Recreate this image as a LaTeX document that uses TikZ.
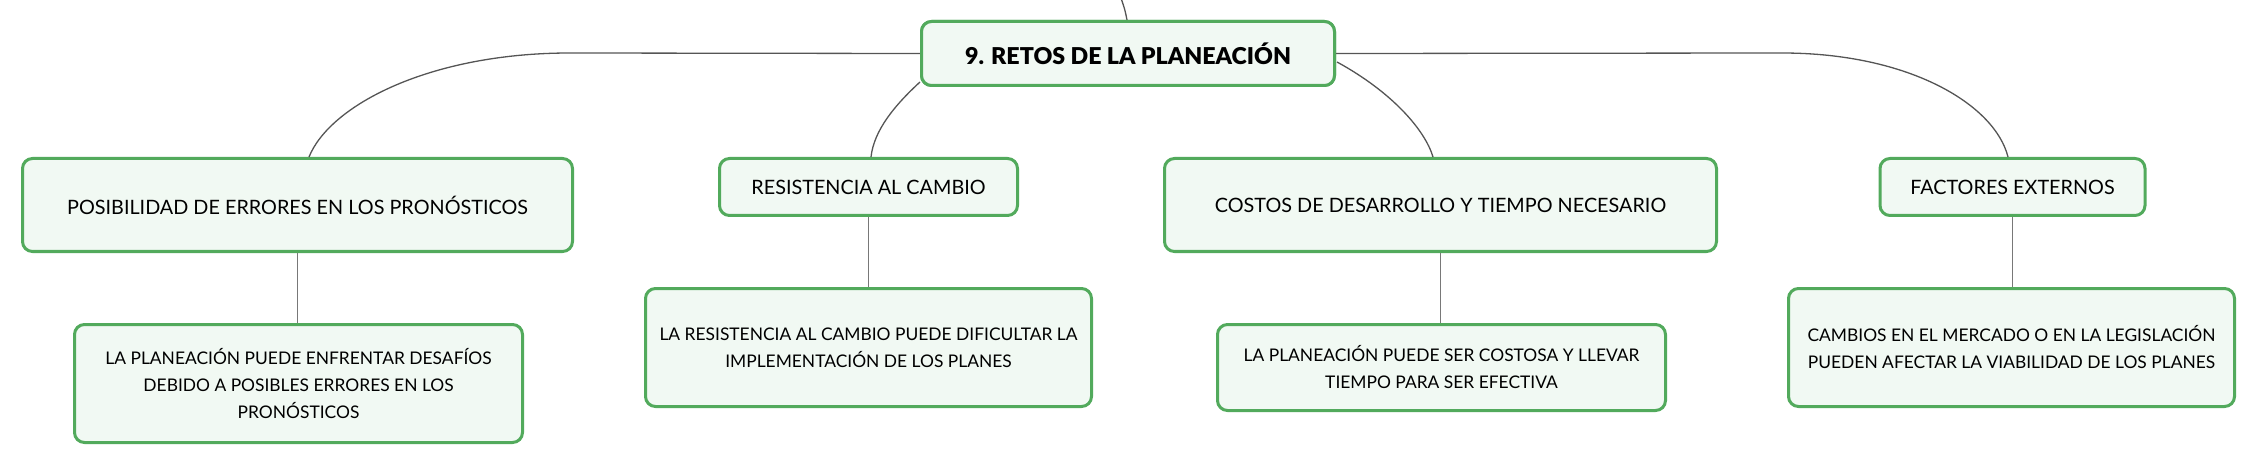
\documentclass[tikz,border=0pt]{standalone}
\usepackage{fontspec}
\setmainfont{Lato}
\newfontfamily\rootfont{Lato Black}
\definecolor{boxborder}{RGB}{82,170,92}
\definecolor{boxfill}{RGB}{241,249,243}
\definecolor{linkgray}{RGB}{85,85,85}
\definecolor{stemgray}{RGB}{120,120,120}
\begin{document}
\begin{tikzpicture}[x=1pt,y=-1pt,
  box/.style={draw=boxborder, fill=boxfill, line width=3pt, rounded corners=10pt,
    inner sep=0pt, align=center, text=black},
  rootbox/.style={box, font=\fontsize{23.2}{30}\rootfont\selectfont},
  topicbox/.style={box, font=\fontsize{19.8}{27}\selectfont},
  leafbox/.style={box, font=\fontsize{17.4}{27}\selectfont},
  link/.style={draw=linkgray, line width=1.3pt},
  stem/.style={draw=stemgray, line width=1.3pt}
]
\useasboundingbox (0,0) rectangle (2257,465);

\node[rootbox, minimum width=413pt, minimum height=64pt] (root) at (1128,53.5) {9. RETOS DE LA PLANEACIÓN};

\node[topicbox, minimum width=550pt, minimum height=93pt] (n1) at (297.5,205) {POSIBILIDAD DE ERRORES EN LOS PRONÓSTICOS};
\node[topicbox, minimum width=298pt, minimum height=57pt] (n2) at (868.5,187) {RESISTENCIA AL CAMBIO};
\node[topicbox, minimum width=552pt, minimum height=93pt] (n3) at (1440.5,205) {COSTOS DE DESARROLLO Y TIEMPO NECESARIO};
\node[topicbox, minimum width=265pt, minimum height=57pt] (n4) at (2012.5,187) {FACTORES EXTERNOS};

\node[leafbox, minimum width=448pt, minimum height=118pt] (c1) at (298.5,383.5) {LA PLANEACIÓN PUEDE ENFRENTAR DESAFÍOS\\DEBIDO A POSIBLES ERRORES EN LOS\\PRONÓSTICOS};
\node[leafbox, minimum width=446pt, minimum height=118pt] (c2) at (868.5,347.5) {LA RESISTENCIA AL CAMBIO PUEDE DIFICULTAR LA\\IMPLEMENTACIÓN DE LOS PLANES};
\node[leafbox, minimum width=448pt, minimum height=86pt] (c3) at (1441.5,367.5) {LA PLANEACIÓN PUEDE SER COSTOSA Y LLEVAR\\TIEMPO PARA SER EFECTIVA};
\node[leafbox, minimum width=446pt, minimum height=118pt] (c4) at (2011.5,347.5) {CAMBIOS EN EL MERCADO O EN LA LEGISLACIÓN\\PUEDEN AFECTAR LA VIABILIDAD DE LOS PLANES};

\coordinate (up) at (1121,-2);

% connectors from root
\draw[link] (root.north -| 1127,0) .. controls (1125,10) .. (up);
\draw[link] (root.west) -- (570,53) .. controls (430,53) and (330,105) .. (n1.north -| 309,0);
\draw[link] (root.south west) ++(0,-5) .. controls (895,105) and (874,130) .. (n2.north -| 871,0);
\draw[link] (root.east) -- (1782,53) .. controls (1910,53) and (1995,105) .. (n4.north -| 2008,0);
\draw[link] (1337,62) .. controls (1392,92) and (1425,130) .. (n3.north -| 1433,0);

% connectors topic to leaf
\draw[stem] (n1.south) -- (c1.north -| n1.south);
\draw[stem] (n2.south) -- (c2.north -| n2.south);
\draw[stem] (n3.south) -- (c3.north -| n3.south);
\draw[stem] (n4.south) -- (c4.north -| n4.south);

% redraw root box on top of its connectors
\node[rootbox, minimum width=413pt, minimum height=64pt] at (root) {9. RETOS DE LA PLANEACIÓN};
\end{tikzpicture}
\end{document}
